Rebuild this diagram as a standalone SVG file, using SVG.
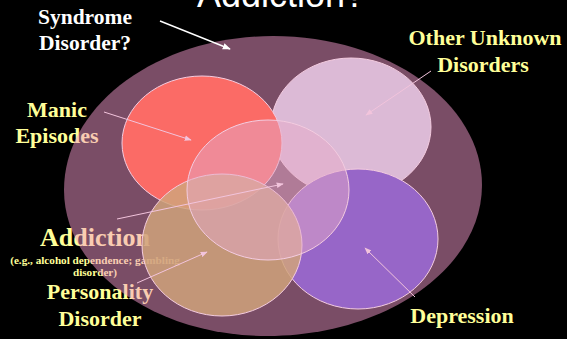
<svg xmlns="http://www.w3.org/2000/svg" width="567" height="339" viewBox="0 0 567 339">
<style>
.lbl{font-family:"Liberation Serif","Times New Roman",serif;font-weight:bold;fill:#ffff99;text-anchor:middle}
.wht{fill:#ffffff}
.circ{stroke:#f4cce0;stroke-width:1}
.arr{stroke:#f2c4dc;stroke-width:1;fill:none;marker-end:url(#ah)}
</style>
<defs>
<marker id="ah" viewBox="0 0 10 10" refX="9" refY="5" markerWidth="7" markerHeight="7" orient="auto" markerUnits="userSpaceOnUse">
<path d="M0,1 L10,5 L0,9 z" fill="#f2c4dc"/>
</marker>
<marker id="ahw" viewBox="0 0 10 10" refX="9" refY="5" markerWidth="8" markerHeight="8" orient="auto" markerUnits="userSpaceOnUse">
<path d="M0,1 L10,5 L0,9 z" fill="#ffffff"/>
</marker>
</defs>
<rect width="567" height="339" fill="#000000"/>
<text x="197" y="7" font-family="Liberation Sans, Arial, sans-serif" font-size="36" fill="#ffffff">Addiction?</text>
<g id="labels">
<g id="syndrome-label"><text class="lbl wht" x="85" y="24" font-size="21.5">Syndrome</text><text class="lbl wht" x="85" y="50" font-size="21.5">Disorder?</text></g>
<g id="other-label"><text class="lbl" x="485" y="45" font-size="22">Other Unknown</text><text class="lbl" x="483" y="72" font-size="22">Disorders</text></g>
<g id="manic-label"><text class="lbl" x="57" y="117" font-size="22">Manic</text><text class="lbl" x="57" y="143" font-size="22">Episodes</text></g>
<g id="addiction-label"><text class="lbl" x="95" y="246" font-size="26">Addiction</text><text class="lbl" x="95" y="264" font-size="11.2">(e.g., alcohol dependence; gambling</text><text class="lbl" x="95" y="276" font-size="11.2">disorder)</text></g>
<g id="personality-label"><text class="lbl" x="100" y="299" font-size="22">Personality</text><text class="lbl" x="100" y="326" font-size="22">Disorder</text></g>
<g id="depression-label"><text class="lbl" x="462" y="323" font-size="22">Depression</text></g>
</g>
<g id="syndrome"><path d="M273,36 C388,36 482,103 482,185 C482,268 386,336 267,336 C155,336 64,271 64,190 C64,105 158,36 273,36 Z" fill="#f49acc" fill-opacity="0.5"/></g>
<g id="other"><ellipse class="circ" cx="351" cy="127" rx="80" ry="69" fill="#dcbad6"/></g>
<g id="manic"><ellipse class="circ" cx="202" cy="143" rx="80" ry="67" fill="#fb6b66"/></g>
<g id="depression"><ellipse class="circ" cx="358" cy="239" rx="80" ry="70" fill="#9766c8"/></g>
<g id="personality"><ellipse class="circ" cx="222" cy="245" rx="80" ry="71" fill="#d0a37b" fill-opacity="0.85"/></g>
<g id="addiction"><ellipse class="circ" cx="268" cy="190" rx="81" ry="70" fill="#e6aac8" fill-opacity="0.5"/></g>
<g id="connectors">
<line x1="160" y1="21" x2="230" y2="49" stroke="#ffffff" stroke-width="1.5" marker-end="url(#ahw)"/>
<line class="arr" x1="104" y1="112" x2="191" y2="140"/>
<line class="arr" x1="431" y1="71" x2="366" y2="115"/>
<line class="arr" x1="117" y1="219" x2="283" y2="184"/>
<line class="arr" x1="137" y1="283" x2="207" y2="252"/>
<line class="arr" x1="415" y1="297" x2="365" y2="248"/>
</g>
</svg>
